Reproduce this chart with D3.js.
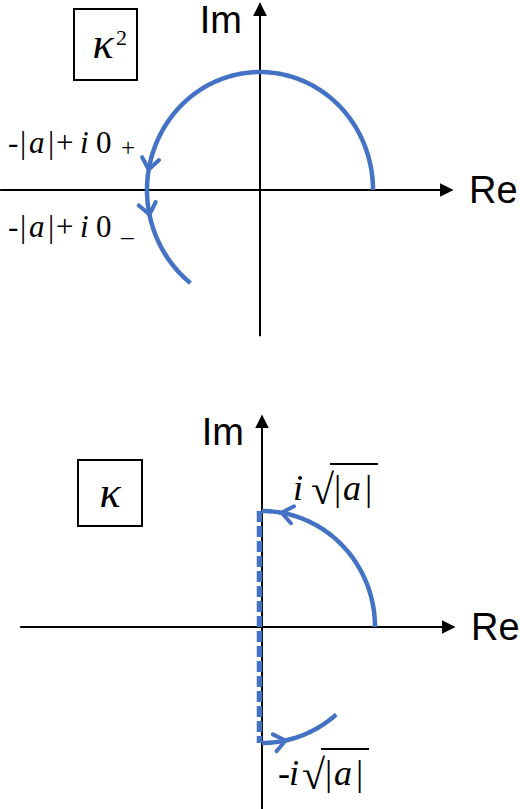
<!DOCTYPE html>
<html>
<head>
<meta charset="utf-8">
<script src="https://cdn.jsdelivr.net/npm/d3@7"></script>
<style>
  body { margin: 0; background: #fff; }
  svg { display: block; }
</style>
</head>
<body>
<svg id="chart" width="520" height="809"></svg>
<script>
// angles in degrees, lengths in units of |a| (radius 1)
const topArc = [0, 232];
const topArrows = [170, 192];
const botArcUpper = [0, 90];
const botArcLower = [270, 311];
const botArrows = [80, 282];
const dashedIm = [1, -1];
const topReAxis = [-2.3, 1.7];
const topImAxis = [-1.24, 1.58];
const botReAxis = [-2.14, 1.7];
const botImAxis = [-1.57, 1.82];
const boxLabels = ["κ", "κ"];
const boxSup = ["2", ""];

var blue = "#4472C4";
var serif = "Liberation Serif, serif";
var svg = d3.select("#chart");

// scales for the two planes
const xTop = d3.scaleLinear().domain([0, 1]).range([260, 373]);
const yTop = d3.scaleLinear().domain([0, 1]).range([190, 72]);
const xBot = d3.scaleLinear().domain([0, 1]).range([262, 375]);
const yBot = d3.scaleLinear().domain([0, 1]).range([627, 511]);

svg.append("defs").append("marker")
  .attr("id", "ah")
  .attr("viewBox", "0 0 10 10")
  .attr("refX", 9).attr("refY", 5)
  .attr("markerWidth", 14).attr("markerHeight", 14)
  .attr("markerUnits", "userSpaceOnUse")
  .attr("orient", "auto")
  .append("path").attr("d", "M0,0 L10,5 L0,10 Z").attr("fill", "#000");

function axes(g, xs, ys, reExt, imExt) {
  g.append("line")
    .attr("x1", xs(reExt[0])).attr("x2", xs(reExt[1]))
    .attr("y1", ys(0)).attr("y2", ys(0))
    .attr("stroke", "#000").attr("stroke-width", 2)
    .attr("marker-end", "url(#ah)");
  g.append("line")
    .attr("x1", xs(0)).attr("x2", xs(0))
    .attr("y1", ys(imExt[0])).attr("y2", ys(imExt[1]))
    .attr("stroke", "#000").attr("stroke-width", 2)
    .attr("marker-end", "url(#ah)");
  g.append("text")
    .attr("x", xs(reExt[1]) + 17).attr("y", ys(0) + 13)
    .attr("font-family", "Liberation Sans, Arial, sans-serif")
    .attr("font-size", 38).text("Re");
  g.append("text")
    .attr("x", xs(0) - 18).attr("y", ys(imExt[1]) + 29)
    .attr("text-anchor", "end")
    .attr("font-family", "Liberation Sans, Arial, sans-serif")
    .attr("font-size", 38).text("Im");
}

function arcPath(xs, ys, a) {
  var pts = d3.range(a[0], a[1] + 0.01, 1).map(d => d * Math.PI / 180);
  return d3.line()
    .x(t => xs(Math.cos(t)))
    .y(t => ys(Math.sin(t)))(pts);
}

function chevron(g, xs, ys, deg) {
  var t = deg * Math.PI / 180;
  var px = xs(Math.cos(t)), py = ys(Math.sin(t));
  // tangent in screen space
  var dx = xs(-Math.sin(t)) - xs(0), dy = ys(Math.cos(t)) - ys(0);
  var ang = Math.atan2(dy, dx);
  var L = 14, spread = 38 * Math.PI / 180;
  var p1 = [px - L * Math.cos(ang - spread), py - L * Math.sin(ang - spread)];
  var p2 = [px - L * Math.cos(ang + spread), py - L * Math.sin(ang + spread)];
  g.append("path")
    .attr("d", `M${p1[0]},${p1[1]} L${px},${py} L${p2[0]},${p2[1]}`)
    .attr("fill", "none").attr("stroke", blue)
    .attr("stroke-width", 4).attr("stroke-linecap", "round")
    .attr("stroke-linejoin", "round");
}

function box(g, x, y, w, h, i, kx, ky) {
  g.append("rect").attr("x", x).attr("y", y).attr("width", w).attr("height", h)
    .attr("fill", "none").attr("stroke", "#000").attr("stroke-width", 2);
  var t = g.append("text").attr("x", kx).attr("y", ky)
    .attr("text-anchor", "middle")
    .attr("font-family", serif).attr("font-size", 44);
  t.append("tspan").attr("font-style", "italic").text(boxLabels[i]);
  if (boxSup[i]) {
    g.append("text").attr("x", kx + 13).attr("y", ky - 13)
      .attr("font-family", serif).attr("font-size", 22).text(boxSup[i]);
  }
}

// ---- top plane (kappa^2)
var gTop = svg.append("g");
axes(gTop, xTop, yTop, topReAxis, topImAxis);
gTop.append("path").attr("d", arcPath(xTop, yTop, topArc))
  .attr("fill", "none").attr("stroke", blue).attr("stroke-width", 4.5);
topArrows.forEach(a => chevron(gTop, xTop, yTop, a));
box(gTop, 74, 9, 63, 71, 0, 103, 58);

// glyph offsets of the -|a|+i0 labels
function aLabel(g, x, y, sub) {
  var t = g.append("text").attr("y", y)
    .attr("font-family", serif).attr("font-size", 31);
  t.append("tspan").attr("x", x).text("-");
  t.append("tspan").attr("x", x + 12).text("|");
  t.append("tspan").attr("x", x + 21).attr("font-style", "italic").text("a");
  t.append("tspan").attr("x", x + 40).text("|");
  t.append("tspan").attr("x", x + 48).text("+");
  t.append("tspan").attr("x", x + 72).attr("font-style", "italic").text("i");
  t.append("tspan").attr("x", x + 88).text("0");
  t.append("tspan").attr("x", x + 113).attr("y", y + (sub === "+" ? 3 : 8))
    .attr("font-size", 25)
    .text(sub === "+" ? "+" : "\u2013");
}
aLabel(gTop, 8, 153, "+");
aLabel(gTop, 8, 237, "-");

// ---- bottom plane (kappa)
var gBot = svg.append("g");
axes(gBot, xBot, yBot, botReAxis, botImAxis);
gBot.append("line")
  .attr("x1", xBot(0) - 2.5).attr("x2", xBot(0) - 2.5)
  .attr("y1", yBot(dashedIm[0])).attr("y2", yBot(dashedIm[1]))
  .attr("stroke", blue).attr("stroke-width", 5.5)
  .attr("stroke-dasharray", "11,4");
gBot.append("path").attr("d", arcPath(xBot, yBot, botArcUpper))
  .attr("fill", "none").attr("stroke", blue).attr("stroke-width", 4.5);
gBot.append("path").attr("d", arcPath(xBot, yBot, botArcLower))
  .attr("fill", "none").attr("stroke", blue).attr("stroke-width", 4.5);
botArrows.forEach(a => chevron(gBot, xBot, yBot, a));
box(gBot, 78, 460, 64, 66, 1, 110, 507);

// i sqrt(|a|) labels; xr = start of radical
function sqrtLabel(g, x, y, neg, xr) {
  var t = g.append("text").attr("y", y)
    .attr("font-family", serif).attr("font-size", 36);
  if (neg) t.append("tspan").attr("x", x).text("-");
  t.append("tspan").attr("x", neg ? x + 11 : x).attr("font-style", "italic").text("i");
  t.append("tspan").attr("x", xr).attr("y", y + 4)
    .attr("font-size", 42).text("\u221A");
  t.append("tspan").attr("x", xr + 23).attr("y", y).text("|");
  t.append("tspan").attr("x", xr + 32).attr("font-style", "italic").text("a");
  t.append("tspan").attr("x", xr + 54).text("|");
  g.append("line").attr("x1", xr + 19).attr("x2", xr + 67)
    .attr("y1", y - 36).attr("y2", y - 36)
    .attr("stroke", "#000").attr("stroke-width", 1.8);
}
sqrtLabel(gBot, 293, 500, false, 311);
sqrtLabel(gBot, 278, 785, true, 302);
</script>
</body>
</html>
